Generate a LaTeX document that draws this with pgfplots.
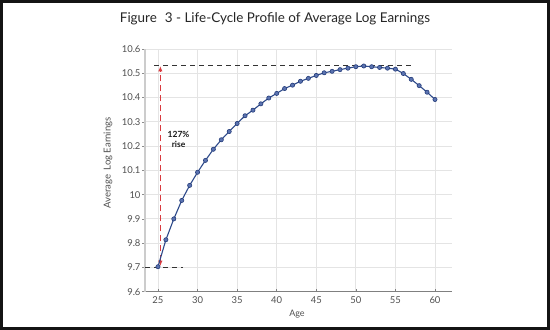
\documentclass[border=0pt]{standalone}
\usepackage{pgfplots}
\pgfplotsset{compat=1.18}
\usepackage{fontspec}
\setmainfont{Lato}
\usetikzlibrary{arrows.meta}
\definecolor{lineblue}{HTML}{2E4A8B}
\definecolor{markfill}{HTML}{5B73B0}
\definecolor{markedge}{HTML}{243C7A}
\definecolor{arrred}{HTML}{D93A3F}
\definecolor{gridgray}{HTML}{E4E4E4}
\definecolor{ticktext}{HTML}{505050}
\begin{document}
\begin{tikzpicture}
\fill[black!92] (0,0) rectangle (550bp,330bp);
\fill[white] (3bp,3bp) rectangle (547bp,327bp);
\node[font=\fontsize{13.5}{16}\selectfont, text=black!85] at (275bp,311bp) {Figure\,\, 3 - Life-Cycle Profile of Average Log Earnings};
\begin{axis}[
  at={(145bp,38.3bp)}, anchor=south west,
  scale only axis, width=307bp, height=242.7bp,
  xmin=23.36, xmax=62.15, ymin=9.6, ymax=10.6,
  xtick={25,30,...,60},
  ytick={9.6,9.7,...,10.6},
  yticklabels={9.6,9.7,9.8,9.9,10,10.1,10.2,10.3,10.4,10.5,10.6},
  axis lines*=left,
  x axis line style={-, draw=black!50, line width=0.8pt},
  y axis line style={-, draw=black!20, line width=1.8pt},
  grid=major,
  major grid style={draw=gridgray, line width=0.8pt},
  xtick style={draw=black!50, line width=0.6pt},
  ytick style={draw=black!45, line width=0.6pt, xshift=-3bp},
  major tick length=3bp,
  tick align=inside,
  /pgf/number format/assume math mode=true,
  ticklabel style={font=\fontsize{9.5}{11}\selectfont, text=ticktext},
  xticklabel style={yshift=-1bp},
  yticklabel style={xshift=-1bp},
  clip=false,
]
\addplot[draw=black!80, line width=1pt, dash pattern=on 5bp off 4bp] coordinates {(24.5,10.532) (57,10.532)};
\addplot[draw=black!80, line width=1pt, dash pattern=on 5bp off 4bp] coordinates {(23.36,9.698) (28.1,9.698)};
\addplot[draw=arrred, line width=1.1pt, dash pattern=on 6bp off 4bp, {Latex[length=5.5bp,width=4.5bp]}-{Latex[length=5.5bp,width=4.5bp]}] coordinates {(25.3,9.705) (25.3,10.53)};
\addplot[color=lineblue, line width=1.1pt, mark=*, mark size=2.1bp, mark options={fill=markfill, draw=markedge, line width=0.6pt}] coordinates {
(25,9.703) (26,9.814) (27,9.900) (28,9.976) (29,10.038) (30,10.092)
(31,10.141) (32,10.187) (33,10.226) (34,10.260) (35,10.293) (36,10.325)
(37,10.348) (38,10.374) (39,10.398) (40,10.417) (41,10.437) (42,10.451)
(43,10.467) (44,10.479) (45,10.491) (46,10.502) (47,10.508) (48,10.515)
(49,10.521) (50,10.527) (51,10.530) (52,10.527) (53,10.524) (54,10.521)
(55,10.517) (56,10.499) (57,10.475) (58,10.449) (59,10.422) (60,10.392)
};
\node[font=\fontsize{8.5}{10}\selectfont\bfseries, align=center, text=black!90] at (axis cs:27.6,10.226) {127\%\\rise};
\end{axis}
\node[font=\fontsize{9}{10}\selectfont, text=ticktext] at (297bp,16bp) {Age};
\node[font=\fontsize{9.6}{11}\selectfont, text=ticktext, rotate=90] at (108bp,167bp) {Average\, Log Earnings};
\end{tikzpicture}
\end{document}
